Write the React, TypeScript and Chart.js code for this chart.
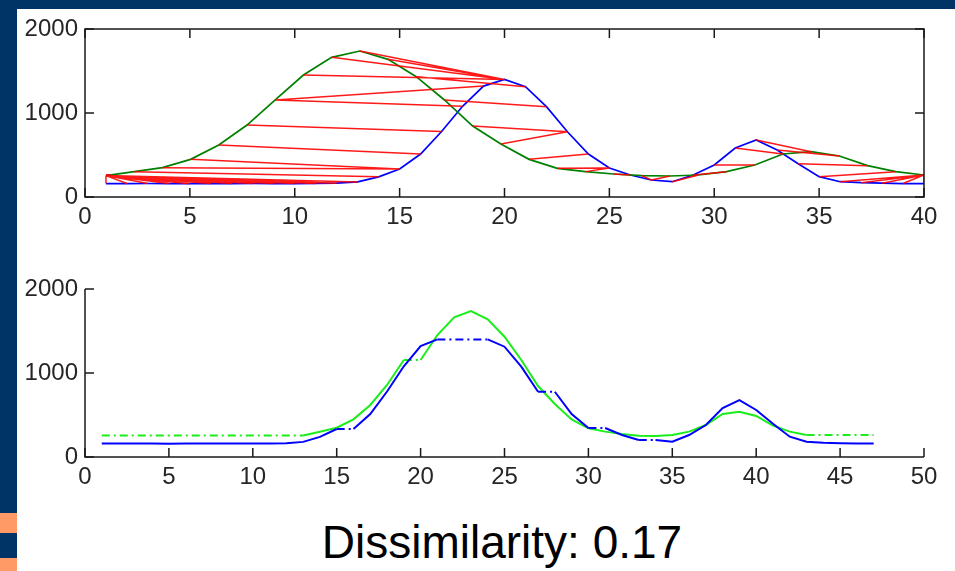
import React, { useEffect, useRef } from "react";
import { Chart, registerables } from "chart.js";

Chart.register(...registerables);

// Series values
const blueSeries = [160, 160, 161, 160, 159, 160, 160, 161, 160, 160, 161, 165, 180, 240, 333, 512, 780, 1080, 1320, 1400, 1313, 1075, 777, 512, 345, 262, 202, 182, 262, 381, 583, 678, 560, 395, 242, 182, 170, 165, 160, 160];
const greenSeries = [255, 301, 349, 448, 619, 857, 1155, 1452, 1663, 1738, 1639, 1432, 1155, 845, 631, 448, 341, 302, 274, 254, 250, 262, 302, 381, 512, 539, 488, 373, 302, 262];

// Warping path (1-based indices into blue / green)
const pathBlue = [1, 2, 3, 4, 5, 6, 7, 8, 9, 10, 11, 12, 13, 14, 15, 15, 16, 17, 18, 19, 20, 20, 20, 20, 21, 22, 23, 23, 24, 25, 25, 26, 27, 27, 28, 29, 30, 31, 32, 33, 34, 35, 36, 37, 38, 39, 40];
const pathGreen = [1, 1, 1, 1, 1, 1, 1, 1, 1, 1, 1, 1, 1, 2, 3, 4, 5, 6, 7, 7, 8, 9, 10, 11, 12, 13, 14, 15, 16, 17, 18, 19, 20, 21, 22, 23, 24, 25, 26, 27, 28, 29, 30, 30, 30, 30, 30];

// Tick labels
const topXTicks = [0, 5, 10, 15, 20, 25, 30, 35, 40];
const bottomXTicks = [0, 5, 10, 15, 20, 25, 30, 35, 40, 45, 50];
const yTicks = [0, 1000, 2000];

const titleText = "Dissimilarity: 0.17";

const FONT = "'Liberation Sans', Arial, Helvetica, sans-serif";
const DASHDOT = [8, 4, 2, 4];

function makeAxesPlugin(box: boolean) {
  return {
    id: "matlabAxes",
    afterDatasetsDraw(chart: any) {
      const { ctx, chartArea } = chart;
      const { left, right, top, bottom } = chartArea;
      const xs = chart.scales.x;
      const ys = chart.scales.y;
      const L = 9;
      ctx.save();
      ctx.strokeStyle = "#1a1a1a";
      ctx.lineWidth = 1.5;
      ctx.beginPath();
      xs.ticks.forEach((t: any) => {
        const px = xs.getPixelForValue(t.value);
        ctx.moveTo(px, bottom);
        ctx.lineTo(px, bottom - L);
        if (box) {
          ctx.moveTo(px, top);
          ctx.lineTo(px, top + L);
        }
      });
      ys.ticks.forEach((t: any) => {
        const py = ys.getPixelForValue(t.value);
        ctx.moveTo(left, py);
        ctx.lineTo(left + L, py);
        if (box) {
          ctx.moveTo(right, py);
          ctx.lineTo(right - L, py);
        }
      });
      ctx.stroke();
      ctx.beginPath();
      if (box) {
        ctx.rect(left, top, right - left, bottom - top);
      } else {
        ctx.moveTo(left, top);
        ctx.lineTo(left, bottom);
        ctx.lineTo(right, bottom);
      }
      ctx.stroke();
      ctx.restore();
    },
  };
}

function scales(xMax: number, xTicks: number[]) {
  const tickFont = { family: FONT, size: 24 };
  return {
    x: {
      type: "linear" as const,
      min: 0,
      max: xMax,
      grid: { display: false, drawTicks: false },
      border: { display: false },
      afterBuildTicks: (s: any) => {
        s.ticks = xTicks.map((v) => ({ value: v }));
      },
      afterFit: (s: any) => {
        s.height = 43;
      },
      ticks: {
        font: tickFont,
        color: "#262626",
        padding: 6,
        maxRotation: 0,
        autoSkip: false,
        callback: (v: any) => String(v),
      },
    },
    y: {
      type: "linear" as const,
      min: 0,
      max: 2000,
      grid: { display: false, drawTicks: false },
      border: { display: false },
      afterBuildTicks: (s: any) => {
        s.ticks = yTicks.map((v) => ({ value: v }));
      },
      afterFit: (s: any) => {
        s.width = 85;
      },
      ticks: {
        font: tickFont,
        color: "#262626",
        padding: 7,
        autoSkip: false,
        callback: (v: any) => String(v),
      },
    },
  };
}

export default function App() {
  const topRef = useRef<HTMLCanvasElement | null>(null);
  const bottomRef = useRef<HTMLCanvasElement | null>(null);

  useEffect(() => {
    const n = blueSeries.length;
    const m = greenSeries.length;
    // green sample positions spread over the same 1..n range
    const greenX = greenSeries.map((_, j) => 1 + (j * (n - 1)) / (m - 1));

    const bluePts = blueSeries.map((v, i) => ({ x: i + 1, y: v }));
    const greenPts = greenSeries.map((v, j) => ({ x: greenX[j], y: v }));
    const warpPts: any[] = [];
    pathBlue.forEach((bi, k) => {
      const gj = pathGreen[k];
      warpPts.push({ x: bi, y: blueSeries[bi - 1] });
      warpPts.push({ x: greenX[gj - 1], y: greenSeries[gj - 1] });
      warpPts.push({ x: greenX[gj - 1], y: null });
    });

    const topChart = new Chart(topRef.current as HTMLCanvasElement, {
      type: "line",
      data: {
        datasets: [
          {
            data: warpPts,
            borderColor: "rgba(255,0,0,0.9)",
            borderWidth: 1.5,
            pointRadius: 0,
            spanGaps: false,
            tension: 0,
          },
          {
            data: greenPts,
            borderColor: "#008000",
            borderWidth: 1.7,
            pointRadius: 0,
            tension: 0,
          },
          {
            data: bluePts,
            borderColor: "#0000ff",
            borderWidth: 1.7,
            pointRadius: 0,
            tension: 0,
          },
        ],
      },
      options: {
        animation: false,
        responsive: false,
        events: [],
        layout: { padding: { top: 29, right: 31, left: 0, bottom: 0 } },
        plugins: { legend: { display: false }, tooltip: { enabled: false }, title: { display: false } },
        scales: scales(40, topXTicks),
      },
      plugins: [makeAxesPlugin(true)],
    });

    const warpedBlue = pathBlue.map((bi, k) => ({ x: k + 1, y: blueSeries[bi - 1] }));
    const warpedGreen = pathGreen.map((gj, k) => ({ x: k + 1, y: greenSeries[gj - 1] }));

    const bottomChart = new Chart(bottomRef.current as HTMLCanvasElement, {
      type: "line",
      data: {
        datasets: [
          {
            data: warpedBlue,
            borderColor: "#0000ff",
            borderWidth: 2,
            pointRadius: 0,
            tension: 0,
            segment: {
              borderDash: (ctx: any) =>
                pathBlue[ctx.p0DataIndex] === pathBlue[ctx.p1DataIndex] ? DASHDOT : undefined,
            },
          },
          {
            data: warpedGreen,
            borderColor: "#1aee1a",
            borderWidth: 2,
            pointRadius: 0,
            tension: 0,
            segment: {
              borderDash: (ctx: any) =>
                pathGreen[ctx.p0DataIndex] === pathGreen[ctx.p1DataIndex] ? DASHDOT : undefined,
            },
          },
        ],
      },
      options: {
        animation: false,
        responsive: false,
        events: [],
        layout: { padding: { top: 39, right: 31, left: 0, bottom: 0 } },
        plugins: { legend: { display: false }, tooltip: { enabled: false }, title: { display: false } },
        scales: scales(50, bottomXTicks),
      },
      plugins: [makeAxesPlugin(false)],
    });

    return () => {
      topChart.destroy();
      bottomChart.destroy();
    };
  }, []);

  return (
    <div
      style={{
        position: "absolute",
        left: 0,
        top: 0,
        width: 955,
        height: 571,
        overflow: "hidden",
        background: "#003366",
      }}
    >
      <div style={{ position: "absolute", left: 17, top: 9, width: 938, height: 562, background: "#ffffff" }} />
      <div style={{ position: "absolute", left: 0, top: 513, width: 17, height: 20, background: "#ff9966" }} />
      <div style={{ position: "absolute", left: 0, top: 558, width: 17, height: 13, background: "#ff9966" }} />
      <canvas
        ref={topRef}
        width={955}
        height={240}
        style={{ position: "absolute", left: 0, top: 0, width: 955, height: 240 }}
      />
      <canvas
        ref={bottomRef}
        width={955}
        height={250}
        style={{ position: "absolute", left: 0, top: 250, width: 955, height: 250 }}
      />
      <div
        style={{
          position: "absolute",
          left: 0,
          top: 519,
          width: 1004,
          textAlign: "center",
          fontFamily: FONT,
          fontSize: 46,
          lineHeight: 1,
          color: "#000",
          whiteSpace: "nowrap",
        }}
      >
        {titleText}
      </div>
    </div>
  );
}
